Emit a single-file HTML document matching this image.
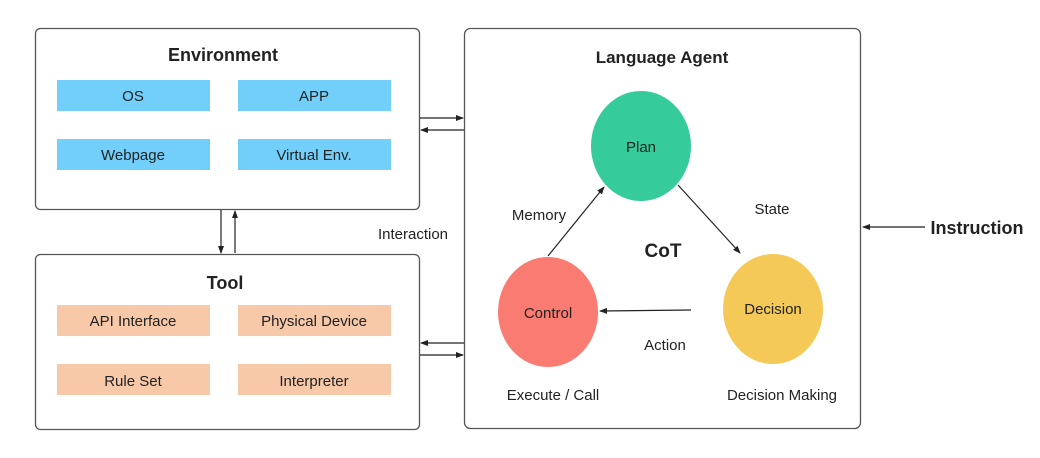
<!DOCTYPE html>
<html><head><style>
body{margin:0;background:#fff;width:1040px;height:453px;overflow:hidden}
svg text{font-family:"Liberation Sans",sans-serif;fill:#222}
</style></head><body>
<svg width="1040" height="453" viewBox="0 0 1040 453">
<defs><marker id="a" markerWidth="8" markerHeight="8" refX="7" refY="4" orient="auto" markerUnits="userSpaceOnUse"><path d="M0,1 L8,4 L0,7z" fill="#222"/></marker></defs>
<g fill="none" stroke="#555" stroke-width="1.3">
<rect x="35.5" y="28.5" width="384" height="181" rx="5"/>
<rect x="35.5" y="254.5" width="384" height="175" rx="5"/>
<rect x="464.5" y="28.5" width="396" height="400" rx="6"/>
</g>
<g fill="#72cffa">
<rect x="57" y="80" width="153" height="31"/><rect x="238" y="80" width="153" height="31"/>
<rect x="57" y="139" width="153" height="31"/><rect x="238" y="139" width="153" height="31"/>
</g>
<g fill="#f7c9a8">
<rect x="57" y="305" width="153" height="31"/><rect x="238" y="305" width="153" height="31"/>
<rect x="57" y="364" width="153" height="31"/><rect x="238" y="364" width="153" height="31"/>
</g>
<g font-size="15" text-anchor="middle">
<text x="133" y="101">OS</text><text x="314" y="101">APP</text>
<text x="133" y="160">Webpage</text><text x="314" y="160">Virtual Env.</text>
<text x="133" y="326">API Interface</text><text x="314" y="326">Physical Device</text>
<text x="133" y="386">Rule Set</text><text x="314" y="386">Interpreter</text>
</g>
<g font-weight="bold" text-anchor="middle">
<text x="223" y="61" font-size="18">Environment</text>
<text x="225" y="289" font-size="18">Tool</text>
<text x="662" y="63" font-size="17">Language Agent</text>
<text x="663" y="257" font-size="19">CoT</text>
<text x="977" y="234" font-size="18">Instruction</text>
</g>
<g stroke="#222" stroke-width="1.2" fill="none">
<line x1="420" y1="118" x2="463" y2="118" marker-end="url(#a)"/>
<line x1="464" y1="130" x2="421" y2="130" marker-end="url(#a)"/>
<line x1="464" y1="343" x2="421" y2="343" marker-end="url(#a)"/>
<line x1="420" y1="355" x2="463" y2="355" marker-end="url(#a)"/>
<line x1="221" y1="210" x2="221" y2="253" marker-end="url(#a)"/>
<line x1="235" y1="253" x2="235" y2="211" marker-end="url(#a)"/>
<line x1="925" y1="227" x2="863" y2="227" marker-end="url(#a)"/>
</g>
<ellipse cx="641" cy="146" rx="50" ry="55" fill="#35cb9a"/>
<ellipse cx="548" cy="312" rx="50" ry="55" fill="#f97b72"/>
<ellipse cx="773" cy="309" rx="50" ry="55" fill="#f4c957"/>
<g stroke="#222" stroke-width="1.2" fill="none">
<line x1="548" y1="256" x2="604" y2="187" marker-end="url(#a)"/>
<line x1="678" y1="185" x2="740" y2="253" marker-end="url(#a)"/>
<line x1="691" y1="310" x2="600" y2="311" marker-end="url(#a)"/>
</g>
<g font-size="15" text-anchor="middle">
<text x="641" y="152">Plan</text>
<text x="548" y="318">Control</text>
<text x="773" y="314">Decision</text>
<text x="539" y="220">Memory</text>
<text x="772" y="214">State</text>
<text x="665" y="350">Action</text>
<text x="413" y="239">Interaction</text>
<text x="553" y="400">Execute / Call</text>
<text x="782" y="400">Decision Making</text>
</g>
</svg>
</body></html>
